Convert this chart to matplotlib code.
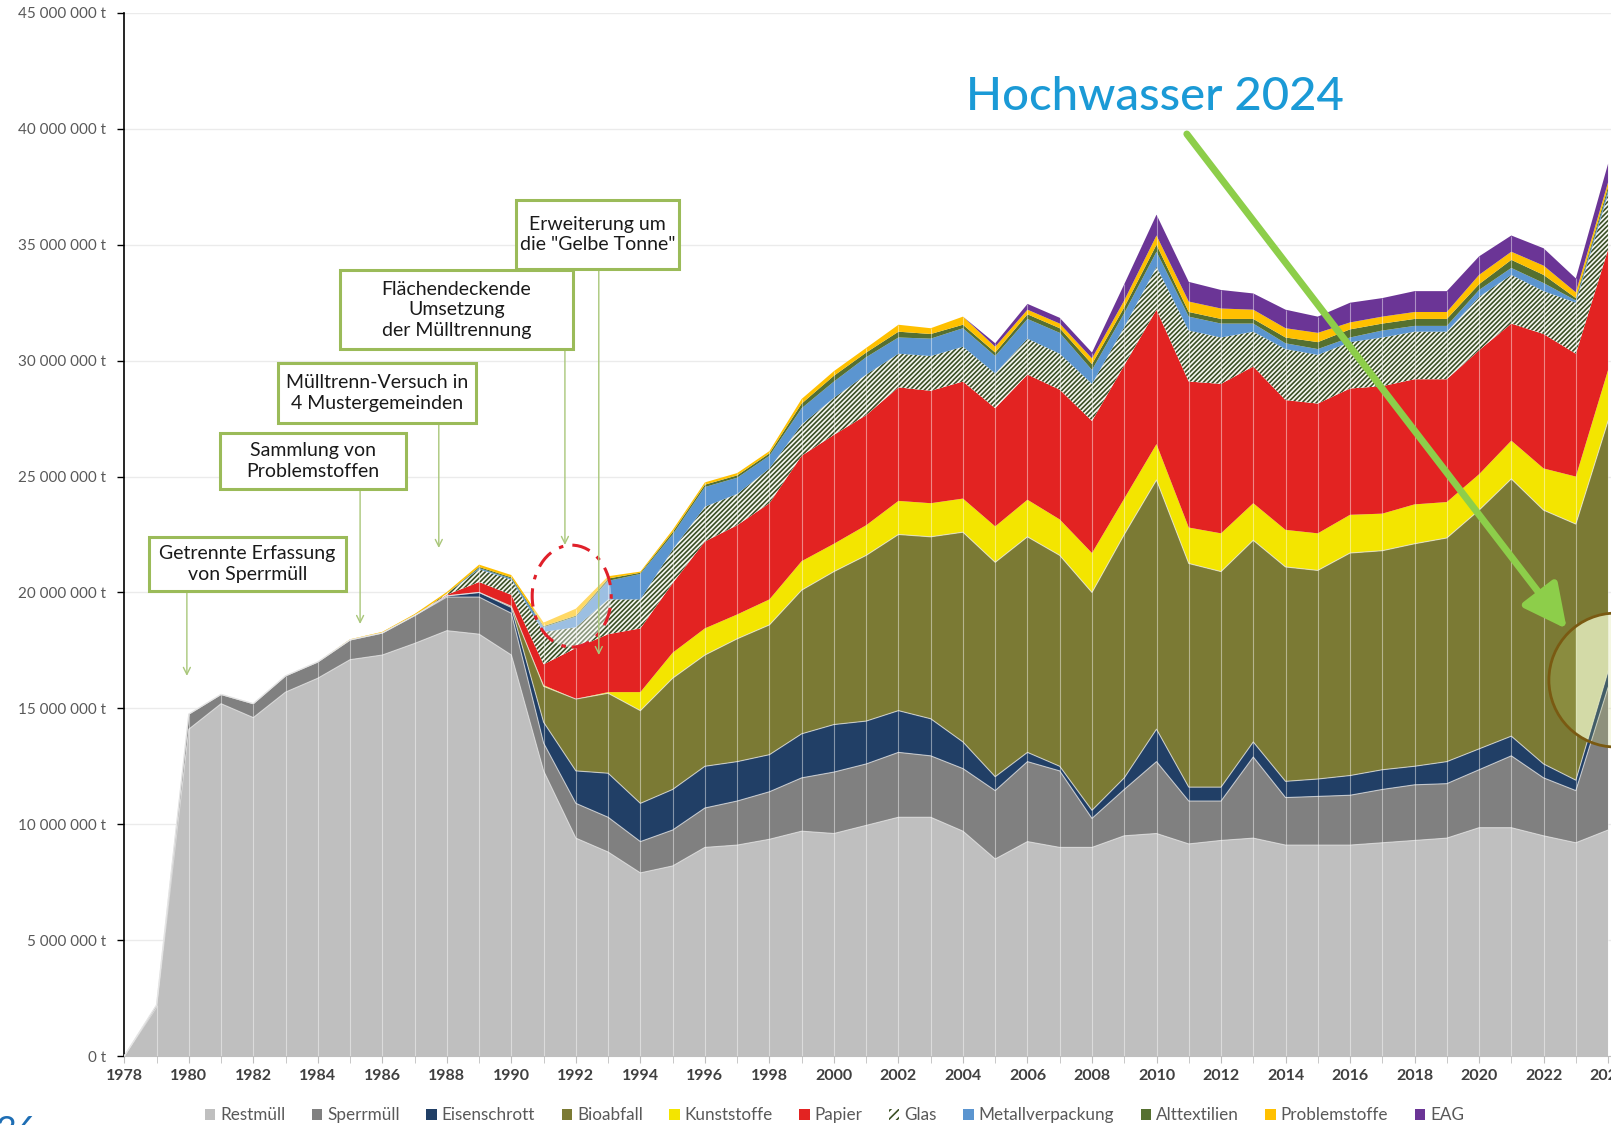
import numpy as np
import matplotlib
matplotlib.use('Agg')
import matplotlib.pyplot as plt
from matplotlib.patches import Ellipse, Patch, Rectangle
from matplotlib.ticker import FuncFormatter, MultipleLocator

plt.rcParams['font.family'] = ['Lato', 'DejaVu Sans']
plt.rcParams['hatch.linewidth'] = 1.2

years = list(range(1978, 2025))

# Mio t je Fraktion (gestapelt, von unten nach oben)
restmuell = [0, 2.1, 14.1, 15.2, 14.6, 15.7, 16.3, 17.1, 17.3, 17.8,
             18.35, 18.2, 17.3, 12.3, 9.4, 8.8, 7.9, 8.2, 9.0, 9.1,
             9.35, 9.7, 9.6, 9.95, 10.3, 10.3, 9.7, 8.5, 9.25, 9.0,
             9.0, 9.5, 9.6, 9.15, 9.3, 9.4, 9.1, 9.1, 9.1, 9.2,
             9.3, 9.4, 9.85, 9.85, 9.5, 9.2, 9.75]
sperrmuell = [0, 0.1, 0.65, 0.4, 0.6, 0.7, 0.7, 0.85, 0.95, 1.2,
              1.45, 1.6, 1.8, 1.2, 1.5, 1.5, 1.35, 1.55, 1.7, 1.9,
              2.05, 2.3, 2.65, 2.65, 2.8, 2.65, 2.7, 2.95, 3.45, 3.3,
              1.25, 2.0, 3.1, 1.85, 1.7, 3.5, 2.05, 2.1, 2.15, 2.3,
              2.4, 2.35, 2.5, 3.1, 2.5, 2.25, 6.15]
eisenschrott = [0, 0, 0, 0, 0, 0, 0, 0, 0, 0,
                0.05, 0.2, 0.25, 0.9, 1.4, 1.9, 1.65, 1.75, 1.8, 1.7,
                1.6, 1.9, 2.05, 1.85, 1.8, 1.6, 1.15, 0.6, 0.4, 0.2,
                0.35, 0.5, 1.4, 0.6, 0.6, 0.65, 0.7, 0.75, 0.85, 0.85,
                0.8, 0.95, 0.9, 0.85, 0.6, 0.45, 0.7]
bioabfall = [0, 0, 0, 0, 0, 0, 0, 0, 0, 0,
             0, 0, 0.05, 1.55, 3.1, 3.45, 4.0, 4.8, 4.8, 5.3,
             5.6, 6.2, 6.6, 7.15, 7.6, 7.85, 9.05, 9.25, 9.3, 9.1,
             9.4, 10.5, 10.75, 9.65, 9.3, 8.7, 9.25, 9.0, 9.6, 9.45,
             9.6, 9.65, 10.3, 11.1, 10.95, 11.05, 10.8]
kunststoffe = [0, 0, 0, 0, 0, 0, 0, 0, 0, 0,
               0, 0, 0, 0.05, 0, 0.05, 0.8, 1.1, 1.15, 1.05,
               1.1, 1.25, 1.2, 1.3, 1.45, 1.45, 1.45, 1.55, 1.6, 1.55,
               1.7, 1.55, 1.55, 1.55, 1.65, 1.6, 1.6, 1.6, 1.65, 1.6,
               1.7, 1.55, 1.55, 1.65, 1.8, 2.05, 2.2]
papier = [0, 0, 0, 0, 0, 0, 0, 0, 0, 0,
          0.05, 0.45, 0.5, 0.9, 2.2, 2.5, 2.75, 3.0, 3.75, 3.85,
          4.15, 4.55, 4.7, 4.75, 4.9, 4.85, 5.05, 5.1, 5.4, 5.6,
          5.7, 5.75, 5.8, 6.3, 6.45, 5.9, 5.6, 5.6, 5.45, 5.5,
          5.4, 5.3, 5.35, 5.05, 5.8, 5.3, 5.2]
glas = [0, 0, 0, 0, 0, 0, 0, 0, 0, 0,
        0.05, 0.55, 0.65, 1.4, 0.9, 1.5, 1.25, 1.45, 1.5, 1.35,
        1.5, 1.35, 1.6, 1.75, 1.45, 1.5, 1.5, 1.5, 1.55, 1.55,
        1.6, 1.65, 1.85, 2.2, 2.0, 1.5, 2.2, 2.1, 2.0, 2.1,
        2.05, 2.05, 2.3, 2.1, 1.85, 2.2, 2.4]
metallverpackung = [0, 0, 0, 0, 0, 0, 0, 0, 0, 0,
                    0, 0.05, 0.05, 0.2, 0.45, 0.8, 1.1, 0.65, 0.85, 0.7,
                    0.55, 0.7, 0.7, 0.75, 0.7, 0.75, 0.8, 0.75, 0.85, 0.9,
                    0.6, 0.6, 0.65, 0.6, 0.6, 0.35, 0.25, 0.25, 0.2, 0.3,
                    0.25, 0.25, 0.3, 0.3, 0.35, 0.1, 0.15]
alttextilien = [0, 0, 0, 0, 0, 0, 0, 0, 0, 0,
                0, 0.05, 0.05, 0.05, 0.05, 0.1, 0.05, 0.1, 0.1, 0.1,
                0.1, 0.2, 0.25, 0.2, 0.25, 0.2, 0.15, 0.15, 0.2, 0.2,
                0.25, 0.25, 0.3, 0.2, 0.2, 0.2, 0.25, 0.3, 0.35, 0.3,
                0.3, 0.3, 0.25, 0.35, 0.35, 0.1, 0.15]
problemstoffe = [0, 0, 0, 0, 0, 0, 0, 0.03, 0.05, 0.07,
                 0.07, 0.1, 0.1, 0.15, 0.3, 0.1, 0.05, 0.1, 0.1, 0.1,
                 0.1, 0.2, 0.2, 0.2, 0.3, 0.25, 0.35, 0.25, 0.2, 0.2,
                 0.25, 0.3, 0.4, 0.45, 0.45, 0.4, 0.4, 0.4, 0.3, 0.3,
                 0.3, 0.3, 0.4, 0.35, 0.4, 0.25, 0.2]
eag = [0, 0, 0, 0, 0, 0, 0, 0, 0, 0,
       0, 0, 0, 0, 0, 0, 0, 0, 0, 0,
       0, 0, 0, 0, 0, 0, 0, 0.15, 0.25, 0.25,
       0.25, 0.7, 0.9, 0.85, 0.8, 0.7, 0.8, 0.7, 0.85, 0.8,
       0.9, 0.9, 0.8, 0.7, 0.75, 0.6, 0.8]

layers = [
    ('Restmüll', restmuell, '#bfbfbf'),
    ('Sperrmüll', sperrmuell, '#808080'),
    ('Eisenschrott', eisenschrott, '#213f66'),
    ('Bioabfall', bioabfall, '#7b7a34'),
    ('Kunststoffe', kunststoffe, '#f3e500'),
    ('Papier', papier, '#e32322'),
    ('Glas', glas, None),
    ('Metallverpackung', metallverpackung, '#5b95d0'),
    ('Alttextilien', alttextilien, '#557030'),
    ('Problemstoffe', problemstoffe, '#ffc000'),
    ('EAG', eag, '#6b3596'),
]
HATCH_COL = '#3a4f25'

fig = plt.figure(figsize=(16.11, 11.25), dpi=100)
ax = fig.add_axes([124.3 / 1611, 69 / 1125, (1611 - 124.3) / 1611, 1043 / 1125])

x = np.array(years)
base = np.zeros(len(years))
tops = {}
for name, vals, col in layers:
    top = base + np.array(vals) * 1e6
    if name == 'Glas':
        ax.fill_between(x, base, top, facecolor='#f7f8f2', edgecolor=HATCH_COL,
                        hatch='///////', linewidth=0, zorder=2)
    else:
        ax.fill_between(x, base, top, facecolor=col, linewidth=0, zorder=2)
    tops[name] = top
    base = top

# helle Trennlinien
for name in ['Restmüll', 'Sperrmüll', 'Eisenschrott', 'Bioabfall']:
    ax.plot(x, tops[name], color='#e6e6e6', lw=0.8, alpha=0.7, zorder=3)
ax.vlines(x, 0, base, colors='white', lw=0.8, alpha=0.45, zorder=3)

ax.set_xlim(1978, 2024.09)
ax.set_ylim(0, 45e6)
ax.yaxis.set_major_locator(MultipleLocator(5e6))
ax.yaxis.set_major_formatter(FuncFormatter(lambda v, p: f"{int(v):,} t".replace(',', ' ')))
ax.xaxis.set_major_locator(MultipleLocator(2))
ax.xaxis.set_minor_locator(MultipleLocator(1))
ax.yaxis.grid(True, color='#ebebeb', lw=1)
ax.set_axisbelow(True)

for s in ['top', 'right']:
    ax.spines[s].set_visible(False)
ax.spines['left'].set_color('black')
ax.spines['left'].set_linewidth(1.2)
ax.spines['bottom'].set_color('#bfbfbf')
ax.tick_params(axis='y', direction='out', length=5, width=1, color='black',
               labelsize=11, labelcolor='#595959', pad=8)
ax.tick_params(axis='x', which='both', direction='out', length=5, color='#bfbfbf', pad=4)
for lab in ax.get_xticklabels():
    lab.set_fontweight('bold')
    lab.set_fontsize(11.5)
    lab.set_color('#404040')

# Textboxen (x0, x1, y_unten, y_oben) mit Pfeilen (x, y_start, y_ende)
notes = [
    ("Getrennte Erfassung\nvon Sperrmüll", (1978.77, 1984.87, 20.06e6, 22.39e6), (1979.94, 20.06e6, 16.4e6)),
    ("Sammlung von\nProblemstoffen", (1980.97, 1986.73, 24.46e6, 26.87e6), (1985.31, 24.46e6, 18.64e6)),
    ("Mülltrenn-Versuch in\n4 Mustergemeinden", (1982.76, 1988.90, 27.31e6, 29.90e6), (1987.75, 27.31e6, 21.92e6)),
    ("Flächendeckende\nUmsetzung\nder Mülltrennung", (1984.69, 1991.91, 30.50e6, 33.91e6), (1991.66, 30.50e6, 22.05e6)),
    ("Erweiterung um\ndie \"Gelbe Tonne\"", (1990.14, 1995.19, 33.95e6, 36.93e6), (1992.71, 33.95e6, 17.3e6)),
]
for txt, (bx0, bx1, by0, by1), (axx, y0, y1) in notes:
    ax.annotate('', xy=(axx, y1), xytext=(axx, y0),
                arrowprops=dict(arrowstyle='->,head_length=0.5,head_width=0.25',
                                color='#a9c77a', lw=1, shrinkA=0, shrinkB=0), zorder=6)
    ax.add_patch(Rectangle((bx0, by0), bx1 - bx0, by1 - by0, facecolor='white',
                           edgecolor='#9bbb59', linewidth=2.2, zorder=7))
    ax.text((bx0 + bx1) / 2, (by0 + by1) / 2, txt, ha='center', va='center',
            fontsize=14, color='#1a1a1a', linespacing=1.25, zorder=8)

# rote Markierung "Gelbe Tonne"
ax.add_patch(Ellipse((1991.87, 19.84e6), 2.45, 4.4e6, facecolor='white', alpha=0.4,
                     edgecolor='none', zorder=4))
ax.add_patch(Ellipse((1991.87, 19.84e6), 2.45, 4.4e6, facecolor='none',
                     edgecolor='#e0202a', linestyle=(0, (6, 3, 1.5, 3)), lw=2.2, zorder=5))

# Hochwasser 2024
ell = Ellipse((2024.24, 16.22e6), 4.15, 5.78e6, facecolor='#c9d76c', alpha=0.2,
              edgecolor='none', zorder=4)
ax.add_patch(ell)
pale = ax.fill_between(x[-2:], tops['Eisenschrott'][-2:], tops['Bioabfall'][-2:],
                       facecolor='#e6eec2', alpha=0.8, linewidth=0, zorder=4)
pale.set_clip_path(ell)
ax.add_patch(Ellipse((2024.24, 16.22e6), 4.15, 5.78e6, facecolor='none',
                     edgecolor='#7a5a12', lw=2, zorder=5, clip_on=False))

ax.annotate('', xy=(2022.72, 18.42e6), xytext=(2010.94, 39.78e6),
            arrowprops=dict(arrowstyle='-|>,head_length=1.2,head_width=0.6',
                            color='#8dce4a', lw=5, shrinkA=0, shrinkB=0,
                            mutation_scale=22), zorder=8)
ax.text(2004.09, 41.37e6, 'Hochwasser 2024', fontsize=34, color='#1b9ad6',
        fontweight='medium', ha='left', va='center', zorder=8)

# Legende
handles = []
for name, vals, col in layers:
    if name == 'Glas':
        handles.append(Patch(facecolor='white', edgecolor=HATCH_COL, hatch='////',
                             linewidth=0, label=name))
    else:
        handles.append(Patch(facecolor=col, linewidth=0, label=name))
leg = fig.legend(handles=handles, loc='center', bbox_to_anchor=(0.518, 0.0085),
                 ncol=11, frameon=False, fontsize=12.3, handlelength=0.6,
                 handleheight=0.6, handletextpad=0.3, columnspacing=1.55)
for t in leg.get_texts():
    t.set_color('#595959')

fig.text(-0.003, -0.015, '36', fontsize=26, color='#1e6eb4', ha='left', va='baseline')

fig.savefig('out.png', dpi=100)
